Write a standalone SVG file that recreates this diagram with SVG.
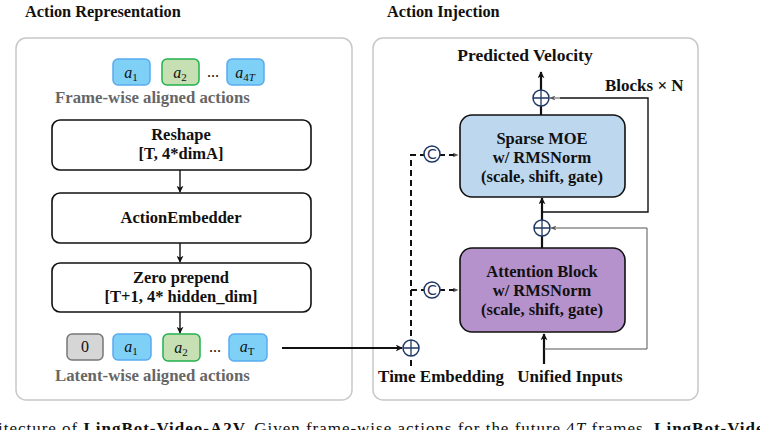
<svg xmlns="http://www.w3.org/2000/svg" width="760" height="430" viewBox="0 0 760 430">
<style>
.t{font-family:"Liberation Serif","DejaVu Serif",serif;font-weight:bold;fill:#111}
.title{font-size:16.3px}
.node{font-size:16.5px;text-anchor:middle}
.gray{font-size:16.8px;fill:#666}
.panel{fill:#fff;stroke:#c8c8c8;stroke-width:1.5}
.box{fill:#fff;stroke:#111;stroke-width:1.6}
.blue{fill:#7fd0f7;stroke:#5aaaf0;stroke-width:1.5}
.green{fill:#c6e0b4;stroke:#22b14c;stroke-width:1.5}
.zero{fill:#d6d6d6;stroke:#777;stroke-width:1.5}
.m{font-family:"Liberation Serif","DejaVu Serif",serif;font-style:italic;font-size:16px;text-anchor:middle;fill:#111}
.sub{font-size:11px;font-style:normal}
.ln{stroke:#111;stroke-width:1.4;fill:none}
.thick{stroke:#111;stroke-width:2.2;fill:none}
.thin{stroke:#555;stroke-width:1;fill:none}
.dash{stroke:#111;stroke-width:2;fill:none;stroke-dasharray:6,4}
.circ{fill:#fff;stroke:#1f3864;stroke-width:1.5}
.cap{font-family:"Liberation Serif","DejaVu Serif",serif;font-size:17px;fill:#111}
</style>
<defs>
<marker id="ah" viewBox="0 0 10 10" refX="9" refY="5" markerWidth="7" markerHeight="7" markerUnits="userSpaceOnUse" orient="auto"><path d="M0,0 L10,5 L0,10 L3,5 z" fill="#111"/></marker>
<marker id="ahs" viewBox="0 0 10 10" refX="9" refY="5" markerWidth="6" markerHeight="6" markerUnits="userSpaceOnUse" orient="auto"><path d="M0,1 L10,5 L0,9 L3,5 z" fill="#555"/></marker>
</defs>
<rect width="760" height="430" fill="#fff"/>

<text class="t title" x="25" y="17">Action Representation</text>
<text class="t title" x="387" y="17">Action Injection</text>

<rect class="panel" x="16" y="38" width="336" height="362" rx="10"/>
<rect class="panel" x="373" y="38" width="325" height="362" rx="10"/>

<g id="frame-actions">
<rect class="blue" x="113" y="59" width="37" height="26" rx="5"/>
<text class="m" x="131" y="78">a<tspan class="sub" dy="3">1</tspan></text>
<rect class="green" x="162" y="59" width="37" height="26" rx="5"/>
<text class="m" x="180" y="78">a<tspan class="sub" dy="3">2</tspan></text>
<text class="m" x="213" y="77" style="font-style:normal">...</text>
<rect class="blue" x="227" y="59" width="37" height="26" rx="5"/>
<text class="m" x="245" y="78">a<tspan class="sub" dy="3">4<tspan font-style="italic">T</tspan></tspan></text>
<text class="t gray" x="55" y="103">Frame-wise aligned actions</text>
</g>

<g id="reshape">
<rect class="box" x="52" y="120" width="259" height="50" rx="8"/>
<text class="t node" x="181" y="140">Reshape</text>
<text class="t node" x="181" y="159">[T, 4*dimA]</text>
</g>
<g id="embedder">
<rect class="box" x="52" y="193" width="259" height="50" rx="8"/>
<text class="t node" x="181" y="223">ActionEmbedder</text>
</g>
<g id="zero-prepend">
<rect class="box" x="52" y="263" width="259" height="49" rx="8"/>
<text class="t node" x="181" y="283">Zero prepend</text>
<text class="t node" x="181" y="302">[T+1, 4* hidden_dim]</text>
</g>

<g id="latent-actions">
<rect class="zero" x="67" y="334" width="36" height="26" rx="5"/>
<text class="m" x="85" y="352" style="font-style:normal">0</text>
<rect class="blue" x="113" y="334" width="38" height="26" rx="5"/>
<text class="m" x="131" y="352">a<tspan class="sub" dy="3">1</tspan></text>
<rect class="green" x="163" y="334" width="37" height="27" rx="5"/>
<text class="m" x="181" y="353">a<tspan class="sub" dy="3">2</tspan></text>
<text class="m" x="215" y="352" style="font-style:normal">...</text>
<rect class="blue" x="229" y="334" width="38" height="27" rx="5"/>
<text class="m" x="247" y="352">a<tspan class="sub" dy="3" font-style="italic">T</tspan></text>
<text class="t gray" x="55" y="381">Latent-wise aligned actions</text>
</g>

<g id="predicted">
<text class="t node" x="525" y="61" style="font-size:17.5px">Predicted Velocity</text>
</g>
<g id="blocks-label">
<text class="t" x="605" y="91" style="font-size:17px">Blocks × N</text>
</g>

<g id="moe">
<rect x="460" y="115" width="165" height="82" rx="12" fill="#bdd7ee" stroke="#111" stroke-width="1.6"/>
<text class="t node" x="542" y="144">Sparse MOE</text>
<text class="t node" x="542" y="163">w/ RMSNorm</text>
<text class="t node" x="542" y="182">(scale, shift, gate)</text>
</g>
<g id="attention">
<rect x="460" y="248" width="165" height="84" rx="12" fill="#b592cb" stroke="#111" stroke-width="1.6"/>
<text class="t node" x="542" y="277">Attention Block</text>
<text class="t node" x="542" y="296">w/ RMSNorm</text>
<text class="t node" x="542" y="315">(scale, shift, gate)</text>
</g>

<g id="labels-bottom">
<text class="t node" x="441" y="382" style="font-size:17px">Time Embedding</text>
<text class="t node" x="570" y="382" style="font-size:17px">Unified Inputs</text>
</g>

<g id="connectors">
<line class="ln" x1="180" y1="170" x2="180" y2="192" marker-end="url(#ah)"/>
<line class="ln" x1="180" y1="243" x2="180" y2="262" marker-end="url(#ah)"/>
<line class="ln" x1="180" y1="312" x2="180" y2="333" marker-end="url(#ah)"/>
<line class="thick" x1="282" y1="348" x2="402" y2="348" marker-end="url(#ah)"/>
<path class="dash" d="M411,366 V155 H425"/>
<line class="dash" x1="439" y1="155" x2="458" y2="155" stroke-width="1.6" stroke-dasharray="4,3" marker-end="url(#ahs)"/>
<line class="dash" x1="411" y1="290" x2="425" y2="290"/>
<line class="dash" x1="439" y1="290" x2="458" y2="290" stroke-width="1.6" stroke-dasharray="4,3" marker-end="url(#ahs)"/>
<line class="thick" x1="544" y1="364" x2="544" y2="334" marker-end="url(#ah)"/>
<line class="thick" x1="542" y1="248" x2="542" y2="236"/>
<line class="thick" x1="542" y1="220" x2="542" y2="198" marker-end="url(#ah)"/>
<line class="thick" x1="541" y1="115" x2="541" y2="106"/>
<line class="thick" x1="541" y1="90" x2="541" y2="72" marker-end="url(#ah)"/>
<path class="thin" d="M544,349 H647 V228 H551" marker-end="url(#ahs)"/>
<path class="ln" d="M542,212 H648 V98 H560" stroke-width="1.3"/>
<line class="thin" x1="560" y1="98" x2="550" y2="98" marker-end="url(#ahs)"/>
<g id="plus-top"><circle class="circ" cx="541" cy="98" r="8"/><path d="M533,98 H549 M541,90 V106" stroke="#1f3864" stroke-width="1.3"/></g>
<g id="plus-mid"><circle class="circ" cx="542" cy="228" r="8"/><path d="M534,228 H550 M542,220 V236" stroke="#1f3864" stroke-width="1.3"/></g>
<g id="plus-time"><circle class="circ" cx="411" cy="348" r="8"/><path d="M403,348 H419 M411,340 V356" stroke="#1f3864" stroke-width="1.3"/></g>
<g id="concat-top"><circle class="circ" cx="432" cy="154" r="8"/><text x="432" y="159" text-anchor="middle" style="font-family:'DejaVu Sans',sans-serif;font-size:14px;fill:#1f3864">C</text></g>
<g id="concat-bot"><circle class="circ" cx="432" cy="290" r="8"/><text x="432" y="295" text-anchor="middle" style="font-family:'DejaVu Sans',sans-serif;font-size:14px;fill:#1f3864">C</text></g>
</g>

<text class="cap" x="-2" y="434" textLength="775" lengthAdjust="spacing">itecture of <tspan font-weight="bold">LingBot-Video-A2V.</tspan> Given frame-wise actions for the future 4<tspan font-style="italic">T</tspan> frames, <tspan font-weight="bold">LingBot-Video</tspan></text>
</svg>
